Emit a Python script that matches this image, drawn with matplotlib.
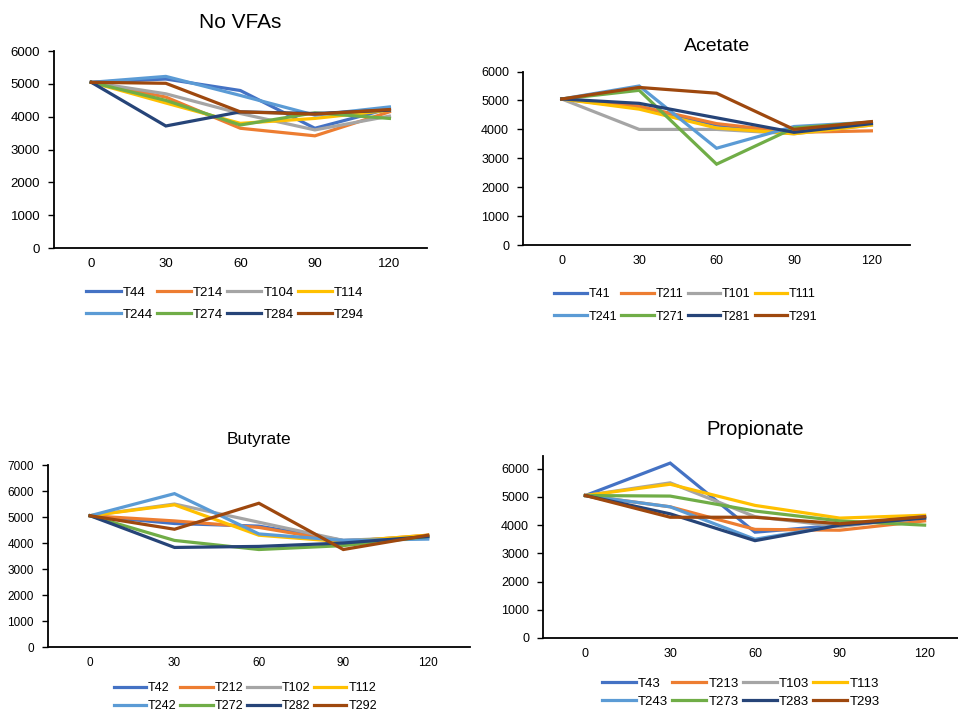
import matplotlib
matplotlib.use("Agg")
import matplotlib.pyplot as plt

plt.rcParams['font.family'] = ['Liberation Sans', 'DejaVu Sans']

# Sampling times (minutes)
times = ["0", "30", "60", "90", "120"]

# Excel default series colours
colors = ["#4472C4", "#ED7D31", "#A5A5A5", "#FFC000",
          "#5B9BD5", "#70AD47", "#264478", "#9E480E"]

# ---- No VFAs ----
novfa_labels = ["T44", "T214", "T104", "T114", "T244", "T274", "T284", "T294"]
novfa_T44 = [5050, 5150, 4800, 3650, 4250]
novfa_T214 = [5050, 4600, 3650, 3420, 4150]
novfa_T104 = [5050, 4700, 4100, 3600, 4020]
novfa_T114 = [5050, 4420, 3800, 3950, 4200]
novfa_T244 = [5050, 5230, 4650, 4050, 4300]
novfa_T274 = [5050, 4500, 3750, 4120, 3950]
novfa_T284 = [5050, 3720, 4150, 4100, 4200]
novfa_T294 = [5050, 5020, 4150, 4080, 4220]

# ---- Acetate ----
acet_labels = ["T41", "T211", "T101", "T111", "T241", "T271", "T281", "T291"]
acet_T41 = [5050, 4750, 4150, 3900, 4200]
acet_T211 = [5050, 4800, 4200, 3900, 3950]
acet_T101 = [5050, 4000, 4000, 3850, 4150]
acet_T111 = [5050, 4700, 4050, 3850, 4150]
acet_T241 = [5050, 5500, 3350, 4100, 4250]
acet_T271 = [5050, 5350, 2800, 4050, 4250]
acet_T281 = [5050, 4900, 4400, 3900, 4200]
acet_T291 = [5050, 5450, 5250, 4000, 4270]

# ---- Butyrate ----
buty_labels = ["T42", "T212", "T102", "T112", "T242", "T272", "T282", "T292"]
buty_T42 = [5050, 4750, 4650, 4100, 4200]
buty_T212 = [5050, 4850, 4600, 4050, 4300]
buty_T102 = [5050, 5500, 4800, 4100, 4250]
buty_T112 = [5050, 5470, 4300, 4050, 4300]
buty_T242 = [5050, 5900, 4350, 4100, 4150]
buty_T272 = [5050, 4100, 3750, 3900, 4250]
buty_T282 = [5050, 3830, 3870, 4000, 4250]
buty_T292 = [5050, 4530, 5530, 3750, 4300]

# ---- Propionate ----
prop_labels = ["T43", "T213", "T103", "T113", "T243", "T273", "T283", "T293"]
prop_T43 = [5050, 6200, 3750, 4000, 4250]
prop_T213 = [5050, 4650, 3850, 3820, 4150]
prop_T103 = [5050, 5500, 4300, 3950, 4300]
prop_T113 = [5050, 5450, 4700, 4250, 4350]
prop_T243 = [5050, 4650, 3500, 4000, 4300]
prop_T273 = [5050, 5030, 4500, 4150, 4000]
prop_T283 = [5050, 4400, 3450, 4000, 4250]
prop_T293 = [5050, 4280, 4280, 4050, 4300]


def draw_panel(fig, rect, title, labels, series, ymax, yticks,
               title_size, tick_size, title_pad, legend_xy, legend_size,
               row_gap):
    ax = fig.add_axes(rect)
    x = range(len(times))
    for lab, vals, c in zip(labels, series, colors):
        ax.plot(x, vals, color=c, lw=2.3, label=lab, solid_joinstyle="miter")

    ax.set_xlim(-0.5, len(times) - 0.5)
    ax.set_ylim(0, ymax)
    ax.set_xticks(list(x))
    ax.set_xticklabels(times)
    ax.set_yticks(yticks)
    ax.tick_params(axis="x", length=0, labelsize=tick_size, pad=7)
    ax.tick_params(axis="y", length=4, width=1, labelsize=tick_size, pad=6)
    for side in ["top", "right"]:
        ax.spines[side].set_visible(False)
    for side in ["left", "bottom"]:
        ax.spines[side].set_linewidth(1.3)
        ax.spines[side].set_color("#000000")
    ax.set_title(title, fontsize=title_size, pad=title_pad)

    # Excel fills the legend row by row, matplotlib column by column
    lines = ax.get_lines()
    order = [0, 4, 1, 5, 2, 6, 3, 7]
    fig.legend(handles=[lines[i] for i in order],
               loc="center", bbox_to_anchor=legend_xy,
               bbox_transform=fig.transFigure, ncol=4, frameon=False,
               fontsize=legend_size, handlelength=2.6, handletextpad=0.15,
               columnspacing=0.3, labelspacing=row_gap)
    return ax


fig = plt.figure(figsize=(9.58, 7.15), dpi=100)

draw_panel(fig, [0.0564, 0.653, 0.389, 0.2755], "No VFAs", novfa_labels,
           [novfa_T44, novfa_T214, novfa_T104, novfa_T114,
            novfa_T244, novfa_T274, novfa_T284, novfa_T294],
           6000, range(0, 7000, 1000), 15, 9.5, 17, (0.235, 0.575), 9.5, 0.75)

draw_panel(fig, [0.546, 0.657, 0.404, 0.243], "Acetate", acet_labels,
           [acet_T41, acet_T211, acet_T101, acet_T111,
            acet_T241, acet_T271, acet_T281, acet_T291],
           6000, range(0, 7000, 1000), 14, 9, 15, (0.716, 0.573), 9, 0.85)

draw_panel(fig, [0.050, 0.0951, 0.4405, 0.2545], "Butyrate", buty_labels,
           [buty_T42, buty_T212, buty_T102, buty_T112,
            buty_T242, buty_T272, buty_T282, buty_T292],
           7000, range(0, 8000, 1000), 12.5, 8.5, 15, (0.256, 0.025), 9, 0.45)

draw_panel(fig, [0.5668, 0.1077, 0.4426, 0.2545], "Propionate", prop_labels,
           [prop_T43, prop_T213, prop_T103, prop_T113,
            prop_T243, prop_T273, prop_T283, prop_T293],
           6450, range(0, 7000, 1000), 14.5, 9, 15, (0.773, 0.031), 9.5, 0.45)

fig.savefig("out.png", dpi=100)
